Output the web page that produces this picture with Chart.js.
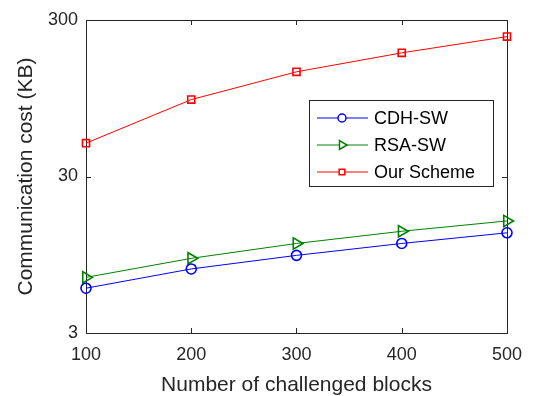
<!DOCTYPE html>
<html>
<head>
<meta charset="utf-8">
<script src="https://cdn.jsdelivr.net/npm/chart.js@4.4.1/dist/chart.umd.min.js"></script>
<style>
  html, body { margin: 0; padding: 0; background: #fff; }
  #wrap { width: 533px; height: 396px; }
</style>
</head>
<body>
<div id="wrap"><canvas id="costChart" width="533" height="396"></canvas></div>
<script>
// ===============================
// DATA
// ===============================
const blocks = [100, 200, 300, 400, 500];
const cdhSw = [5.8, 7.7, 9.4, 11.2, 13.1];
const rsaSw = [6.8, 9.0, 11.2, 13.4, 15.6];
const ourScheme = [49, 93, 140, 185, 235];
const yTicks = [3, 30, 300];

const AXIS_COLOR = '#262626';
const FONT = '"Liberation Sans", Arial, Helvetica, sans-serif';

function toPoints(values) {
    return blocks.map((b, i) => ({ x: b, y: values[i] }));
}

// ===============================
// BOX + INWARD TICKS (matlab style)
// ===============================
const boxPlugin = {
    id: 'boxPlugin',
    beforeDatasetsDraw(chart) {
        const { ctx, chartArea: a, scales } = chart;
        ctx.save();
        ctx.strokeStyle = AXIS_COLOR;
        ctx.lineWidth = 1;
        ctx.strokeRect(Math.round(a.left) + 0.5, Math.round(a.top) + 0.5,
            Math.round(a.right - a.left), Math.round(a.bottom - a.top));
        const tl = 5;
        ctx.beginPath();
        blocks.forEach(v => {
            const px = Math.round(scales.x.getPixelForValue(v)) + 0.5;
            ctx.moveTo(px, a.bottom); ctx.lineTo(px, a.bottom - tl);
            ctx.moveTo(px, a.top); ctx.lineTo(px, a.top + tl);
        });
        yTicks.forEach(v => {
            const py = Math.round(scales.y.getPixelForValue(v)) + 0.5;
            ctx.moveTo(a.left, py); ctx.lineTo(a.left + tl, py);
            ctx.moveTo(a.right, py); ctx.lineTo(a.right - tl, py);
        });
        ctx.stroke();
        ctx.restore();
    }
};

// ===============================
// LEGEND INSIDE PLOT
// ===============================
const insideLegend = {
    id: 'insideLegend',
    afterDraw(chart) {
        const { ctx } = chart;
        const x0 = 309, y0 = 100, w = 184, h = 86;
        ctx.save();
        ctx.fillStyle = '#fff';
        ctx.fillRect(x0, y0, w, h);
        ctx.strokeStyle = AXIS_COLOR;
        ctx.lineWidth = 1;
        ctx.strokeRect(x0 + 0.5, y0 + 0.5, w, h);
        chart.data.datasets.forEach((ds, i) => {
            const cy = y0 + 18 + i * 27;
            ctx.strokeStyle = ds.borderColor;
            ctx.lineWidth = 1;
            ctx.beginPath();
            ctx.moveTo(x0 + 8, cy);
            ctx.lineTo(x0 + 59, cy);
            ctx.stroke();
            ctx.fillStyle = '#fff';
            ctx.lineWidth = 1.5;
            Chart.helpers.drawPoint(ctx, {
                pointStyle: ds.pointStyle,
                radius: ds.pointStyle === 'triangle' ? 5 : 4,
                rotation: ds.pointRotation || 0,
                borderWidth: 1.5
            }, x0 + 33, cy);
            ctx.fillStyle = '#000';
            ctx.font = '18px ' + FONT;
            ctx.textBaseline = 'middle';
            ctx.fillText(ds.label, x0 + 65, cy + 1);
        });
        ctx.restore();
    }
};

// ===============================
// CHART
// ===============================
const ctx = document.getElementById('costChart').getContext('2d');
new Chart(ctx, {
    type: 'line',
    data: {
        datasets: [{
            label: 'CDH-SW',
            data: toPoints(cdhSw),
            borderColor: '#0000ff',
            borderWidth: 1,
            pointStyle: 'circle',
            pointRadius: 5,
            pointBorderWidth: 1.6,
            pointBackgroundColor: 'rgba(0,0,0,0)',
            pointBorderColor: '#0000ff'
        }, {
            label: 'RSA-SW',
            data: toPoints(rsaSw),
            borderColor: '#008000',
            borderWidth: 1,
            pointStyle: 'triangle',
            pointRotation: 90,
            pointRadius: 6.5,
            pointBorderWidth: 1.6,
            pointBackgroundColor: 'rgba(0,0,0,0)',
            pointBorderColor: '#008000'
        }, {
            label: 'Our Scheme',
            data: toPoints(ourScheme),
            borderColor: '#ff0000',
            borderWidth: 1,
            pointStyle: 'rect',
            pointRadius: 5,
            pointBorderWidth: 1.6,
            pointBackgroundColor: 'rgba(0,0,0,0)',
            pointBorderColor: '#ff0000'
        }]
    },
    options: {
        responsive: false,
        animation: false,
        clip: false,
        layout: { padding: { left: 0, right: 23, top: 20, bottom: 0 } },
        plugins: {
            legend: { display: false },
            tooltip: { enabled: false }
        },
        scales: {
            x: {
                type: 'linear',
                min: 100,
                max: 500,
                grid: { display: false, drawTicks: false },
                border: { display: false },
                afterBuildTicks: s => { s.ticks = blocks.map(v => ({ value: v })); },
                afterFit: s => { s.height = 63; },
                ticks: {
                    color: AXIS_COLOR,
                    padding: 11,
                    font: { family: FONT, size: 18 },
                    callback: v => String(v)
                },
                title: {
                    display: true,
                    text: 'Number of challenged blocks',
                    color: AXIS_COLOR,
                    padding: { top: 0, bottom: 0 },
                    font: { family: FONT, size: 21, lineHeight: 1 }
                }
            },
            y: {
                type: 'logarithmic',
                min: 3,
                max: 300,
                grid: { display: false, drawTicks: false },
                border: { display: false },
                afterBuildTicks: s => { s.ticks = yTicks.map(v => ({ value: v })); },
                afterFit: s => { s.width = 86; },
                ticks: {
                    color: AXIS_COLOR,
                    padding: 8,
                    font: { family: FONT, size: 18 },
                    callback: v => String(v)
                },
                title: {
                    display: true,
                    text: 'Communication cost (KB)',
                    color: AXIS_COLOR,
                    padding: { top: 14, bottom: 0 },
                    font: { family: FONT, size: 21 }
                }
            }
        }
    },
    plugins: [boxPlugin, insideLegend]
});
</script>
</body>
</html>
